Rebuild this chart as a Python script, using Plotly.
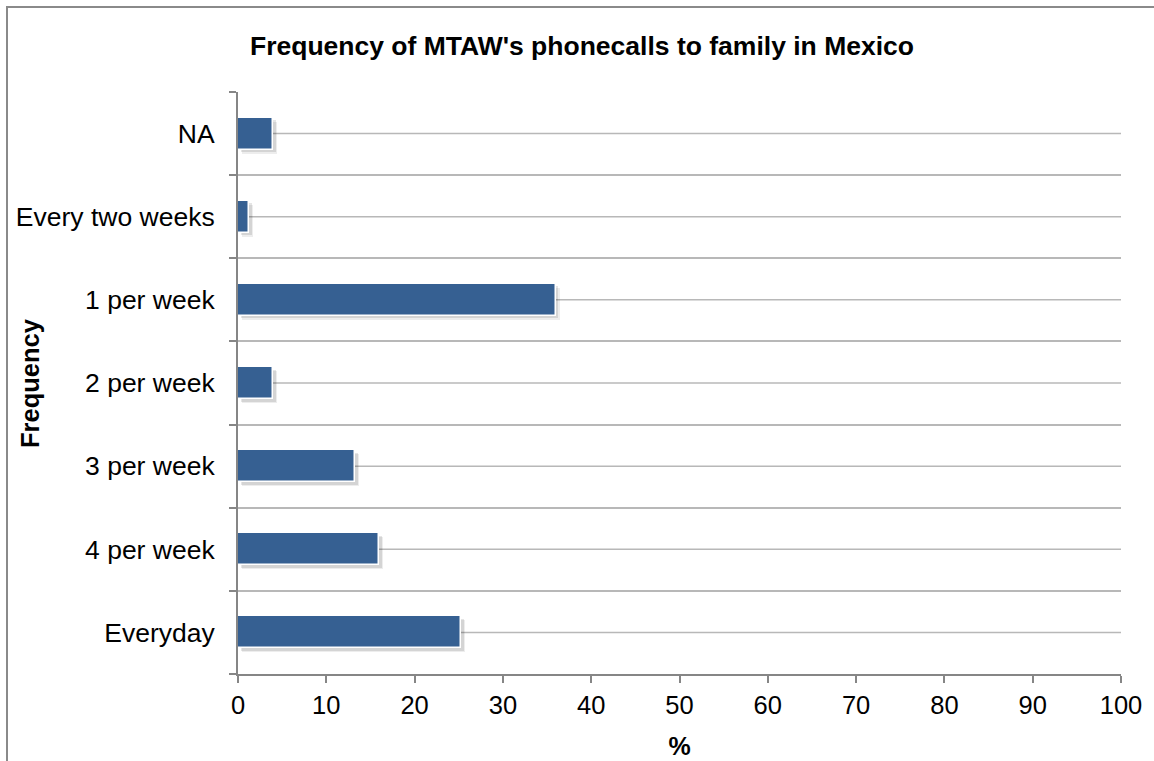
import plotly.graph_objects as go

# Share of respondents by how often they phone family in Mexico (%)
categories = ["Everyday", "4 per week", "3 per week", "2 per week",
              "1 per week", "Every two weeks", "NA"]
values = [25.3, 16.0, 13.3, 4.0, 36.0, 1.3, 4.0]
x_ticks = list(range(0, 101, 10))

BAR_COLOR = "#366092"
GRID_COLOR = "#b8b8b8"
AXIS_COLOR = "#868686"
FONT = "Liberation Sans, Arial, sans-serif"
BAR_WIDTH = 0.385

W, H = 1154, 761
L, R, T, B = 238, 33, 92, 87
pw, ph = W - L - R, H - T - B

fig = go.Figure()

# soft drop shadow under each bar
for dx, dy, a in [(4, 4, 0.07), (2.5, 2.5, 0.10)]:
    fig.add_trace(go.Bar(
        y=categories, x=values, orientation="h",
        base=dx * 100 / pw, width=BAR_WIDTH,
        offset=-BAR_WIDTH / 2 - dy * len(categories) / ph,
        marker=dict(color=f"rgba(0,0,0,{a})", line=dict(width=0)),
        hoverinfo="skip", showlegend=False,
    ))

fig.add_trace(go.Bar(
    y=categories, x=values, orientation="h", width=BAR_WIDTH,
    marker=dict(color=BAR_COLOR, line=dict(color="white", width=1.5)),
    showlegend=False,
))

shapes = []
# gridlines through the middle of each category
for c in categories:
    shapes.append(dict(type="line", xref="paper", yref="y", x0=0, x1=1,
                       y0=c, y1=c, layer="below",
                       line=dict(color=GRID_COLOR, width=1.5)))
# outer chart frame
shapes.append(dict(type="rect", xref="paper", yref="paper",
                   x0=(7 - L) / pw, x1=(W + 10 - L) / pw,
                   y0=-(B + 10) / ph, y1=(H - B - 7) / ph,
                   line=dict(color="#8a8a8a", width=2), layer="below"))

fig.update_layout(
    width=W, height=H,
    margin=dict(l=L, r=R, t=T, b=B, pad=0, autoexpand=False),
    paper_bgcolor="white", plot_bgcolor="white",
    barmode="overlay", bargap=0,
    font=dict(family=FONT, size=26, color="black"),
    title=dict(text="<b>Frequency of MTAW's phonecalls to family in Mexico</b>",
               x=582 / W, xanchor="center", y=1 - 46 / H, yanchor="middle",
               font=dict(size=26.5, family=FONT)),
    shapes=shapes,
    annotations=[dict(text="<b>Frequency</b>", textangle=-90,
                      xref="paper", yref="paper", x=(30 - L) / pw, y=0.5,
                      xanchor="center", yanchor="middle", showarrow=False,
                      font=dict(size=25.5))],
    xaxis=dict(range=[0, 100], tickvals=x_ticks, showgrid=False,
               showline=True, linecolor=AXIS_COLOR, linewidth=2,
               ticks="outside", ticklen=7, tickcolor=AXIS_COLOR, tickwidth=2,
               tickfont=dict(size=25.5), zeroline=False, automargin=False,
               title=dict(text="<b>%</b>", font=dict(size=25), standoff=20)),
    yaxis=dict(categoryorder="array", categoryarray=categories,
               range=[-0.5, len(categories) - 0.5],
               tickson="boundaries", showgrid=True, gridcolor=GRID_COLOR,
               gridwidth=1.5, showline=True, linecolor=AXIS_COLOR,
               linewidth=2, ticks="outside", ticklen=7,
               tickcolor=AXIS_COLOR, tickwidth=2, ticklabelstandoff=16,
               tickfont=dict(size=26.5), zeroline=False, automargin=False),
)

fig.write_html("out.html")
